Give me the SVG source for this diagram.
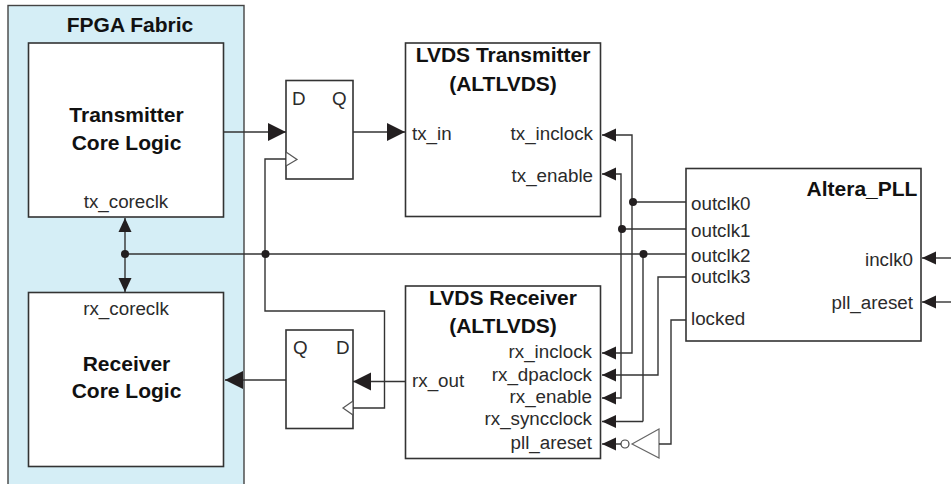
<svg xmlns="http://www.w3.org/2000/svg" width="951" height="484" viewBox="0 0 951 484">
<style>
.box{fill:#fff;stroke:#333;stroke-width:1.6}
.w{fill:none;stroke:#333;stroke-width:1.4}
.arb{marker-end:url(#big)}
.ars{marker-end:url(#small)}
.dot{fill:#231f20}
text{font-family:"Liberation Sans",Arial,sans-serif;fill:#2b2b2b;font-size:18.800px}
.t{font-size:21px;font-weight:bold;text-anchor:middle;fill:#111}
.m{text-anchor:middle}
.e{text-anchor:end}
.open{fill:#fff;stroke:#555;stroke-width:1.2}
</style>
<defs>
<marker id="big" markerUnits="userSpaceOnUse" markerWidth="18" markerHeight="20" refX="18" refY="10" orient="auto"><path d="M0 1L18 10L0 19Z" fill="#231f20"/></marker>
<marker id="small" markerUnits="userSpaceOnUse" markerWidth="14" markerHeight="14" refX="14" refY="7" orient="auto"><path d="M0 0.500L14 7L0 13.500Z" fill="#231f20"/></marker>
</defs>
<g id="fabric"><rect x="8" y="5.500" width="236" height="480" fill="#d5eef6" stroke="#444" stroke-width="1.4"/><text class="t" x="130" y="32">FPGA Fabric</text></g>
<g id="tx-core"><rect class="box" x="28.500" y="43" width="195" height="174"/><text class="t" x="126.500" y="122">Transmitter</text><text class="t" x="126.500" y="150">Core Logic</text><text class="m" x="126" y="208">tx_coreclk</text></g>
<g id="rx-core"><rect class="box" x="28.500" y="292.500" width="195" height="174"/><text class="m" x="126" y="315">rx_coreclk</text><text class="t" x="126.500" y="371">Receiver</text><text class="t" x="126.500" y="398">Core Logic</text></g>
<g id="ff-tx"><rect class="box" x="286" y="80.500" width="67" height="98.500"/><text x="292" y="105">D</text><text x="332" y="105">Q</text><path class="open" d="M286 152L297 159.500L286 166Z"/></g>
<g id="ff-rx"><rect class="box" x="286" y="330" width="67" height="98.500"/><text x="293" y="354">Q</text><text x="336" y="354">D</text><path class="open" d="M353 401L343 408L353 415Z"/></g>
<g id="lvds-tx"><rect class="box" x="405.500" y="43" width="195" height="173.500"/><text class="t" x="503" y="62">LVDS Transmitter</text><text class="t" x="503" y="91">(ALTLVDS)</text><text x="412" y="140">tx_in</text><text class="e" x="593" y="140">tx_inclock</text><text class="e" x="593" y="182">tx_enable</text></g>
<g id="lvds-rx"><rect class="box" x="405.500" y="286" width="195" height="172.500"/><text class="t" x="503" y="305">LVDS Receiver</text><text class="t" x="503" y="333">(ALTLVDS)</text><text x="412" y="387">rx_out</text><text class="e" x="592" y="358">rx_inclock</text><text class="e" x="592" y="381">rx_dpaclock</text><text class="e" x="592" y="403">rx_enable</text><text class="e" x="592" y="425">rx_syncclock</text><text class="e" x="592" y="449">pll_areset</text></g>
<g id="pll"><rect class="box" x="686" y="168.500" width="235" height="172.500"/><text class="t" x="862" y="196">Altera_PLL</text><text x="691" y="210">outclk0</text><text x="691" y="237">outclk1</text><text x="691" y="262">outclk2</text><text x="691" y="283">outclk3</text><text x="691" y="325">locked</text><text class="e" x="913" y="266">inclk0</text><text class="e" x="913" y="309">pll_areset</text></g>
<g id="inverter"><circle cx="625" cy="444" r="4" fill="#fff" stroke="#444" stroke-width="1.2"/><path d="M632 444L659 429V458Z" fill="#fff" stroke="#666" stroke-width="1.2"/></g>
<g id="connectors">
<path class="w arb" d="M223 132H286"/>
<path class="w arb" d="M353 132H405"/>
<path class="w arb" d="M405 381.500H353"/>
<path class="w arb" d="M286 380H225"/>
<path class="w" d="M125 254H686"/>
<path class="w" d="M286 159H265V311H384.500V408H353"/>
<path class="w" d="M643 254V421.500"/>
<path class="w ars" d="M125 254V218"/>
<path class="w ars" d="M125 254V292"/>
<path class="w ars" d="M686 202H632V135H602"/>
<path class="w ars" d="M632 202V353H602"/>
<path class="w ars" d="M686 229H621V174H602"/>
<path class="w ars" d="M621 229V398H602"/>
<path class="w ars" d="M686 277H658V375H602"/>
<path class="w ars" d="M643 421.500H602"/>
<path class="w ars" d="M621 444H602"/>
<path class="w" d="M659 444H671V320H686"/>
<path class="w ars" d="M951 258H922"/>
<path class="w ars" d="M951 302H922"/>
<circle class="dot" cx="125" cy="254" r="4"/>
<circle class="dot" cx="265.500" cy="254" r="4"/>
<circle class="dot" cx="633" cy="202" r="4"/>
<circle class="dot" cx="622" cy="229" r="4"/>
<circle class="dot" cx="643.500" cy="254" r="4"/>
</g>
</svg>
